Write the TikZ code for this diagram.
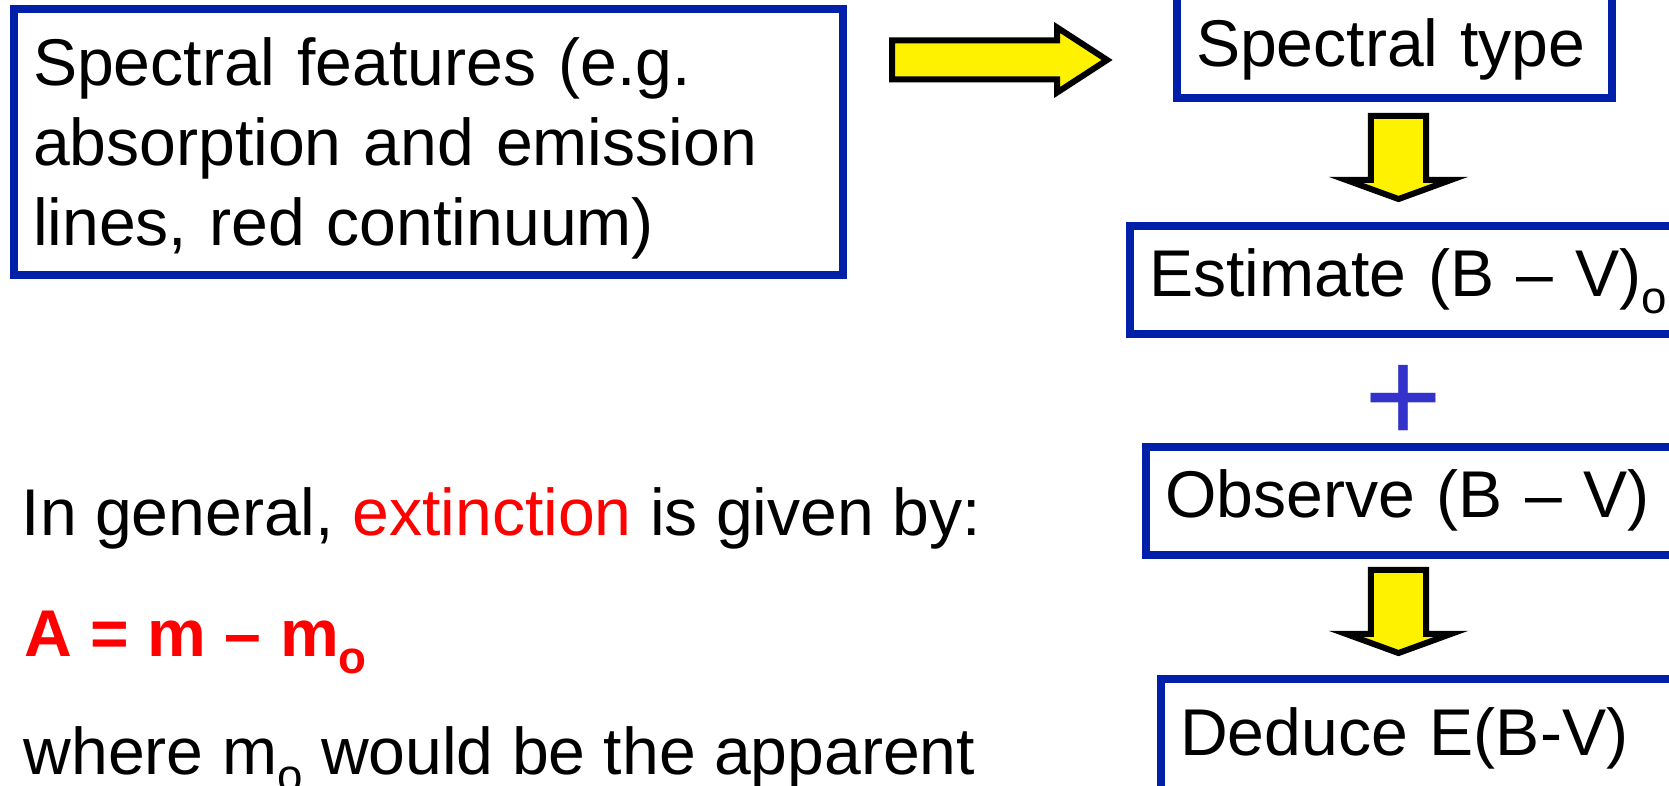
\documentclass[tikz,border=0pt]{standalone}
\usepackage{fontspec}
\setmainfont{Liberation Sans}
\usetikzlibrary{shapes.arrows}
\definecolor{boxblue}{RGB}{0,32,170}
\definecolor{plusblue}{RGB}{51,51,204}
\newcommand{\lowsub}[1]{\raisebox{-0.25em}{\fontsize{13pt}{13pt}\selectfont #1}}
\begin{document}
\begin{tikzpicture}[x=0.01cm, y=-0.01cm,
    every node/.style={font=\fontsize{18.8pt}{22.8pt}\selectfont},
    bluebox/.style={draw=boxblue, line width=0.08cm, inner xsep=0.19cm, inner ysep=0pt,
      align=left, text height=0.48cm, text depth=0.14cm},
    fatarrow/.style={single arrow, draw=black, fill=yellow, line width=0.06cm,
      inner xsep=0pt, single arrow head indent=0pt, anchor=tail},
    plaintext/.style={inner sep=0pt, anchor=base west}]
  \useasboundingbox (0,0) rectangle (1669,786);
  % boxes
  \node[bluebox, anchor=north west, text width=7.91cm, text height=0.76cm, text depth=1.90cm]
    (features) at (10,5) {Spectral features (e.g.\\ absorption and emission\\ lines, red continuum)};
  \node[bluebox, anchor=base west, text width=3.97cm, text height=0.8cm, text depth=0.31cm]
    (sptype) at (1173,67) {Spectral type};
  \node[bluebox, anchor=base west, text width=5.6cm, minimum height=1.08cm]
    (estimate) at (1126,297) {Estimate (B – V)\lowsub{o}};
  \node[bluebox, anchor=base west, text width=5.6cm, minimum height=1.08cm]
    (observe) at (1142,518) {Observe (B – V)};
  \node[bluebox, anchor=base west, text width=5.6cm, minimum height=1.20cm]
    (deduce) at (1157,756) {Deduce E(B-V)};
  \node[text=plusblue, font=\fontsize{38pt}{38pt}\selectfont, inner sep=0pt, anchor=base]
    (plus) at (1404,443) {+};
  % arrows
  \node[fatarrow, minimum height=2.15cm, inner ysep=0.165cm,
    single arrow head extend=0.13cm, single arrow tip angle=66] (toright) at (889,60) {};
  \node[fatarrow, rotate=-90, minimum height=0.83cm, inner ysep=0.245cm,
    single arrow head extend=0.25cm, single arrow tip angle=140] (down1) at (1398.5,113) {};
  \node[fatarrow, rotate=-90, minimum height=0.83cm, inner ysep=0.245cm,
    single arrow head extend=0.25cm, single arrow tip angle=140] (down2) at (1398.5,567) {};
  % text on the left
  \node[plaintext] (general) at (21,536) {In general, \textcolor{red}{extinction} is given by:};
  \node[plaintext, text=red] (formula) at (24,657) {\bfseries A = m – m\lowsub{o}};
  \node[plaintext] (where) at (23,775) {where m\lowsub{o} would be the apparent};
\end{tikzpicture}
\end{document}
